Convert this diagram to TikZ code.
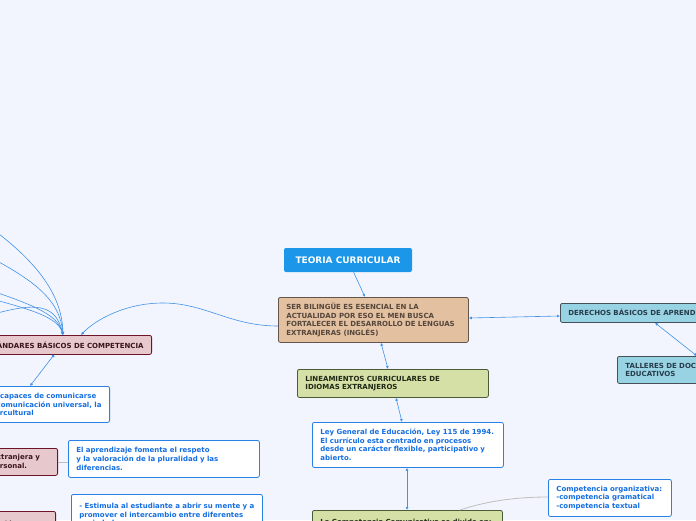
\documentclass[tikz,border=0pt]{standalone}
\usepackage{fontspec}
\setmainfont{DejaVu Sans}
\usepackage{tikz}
\usetikzlibrary{arrows.meta,positioning,calc}
\definecolor{pagebg}{RGB}{242,245,254}
\definecolor{titleblue}{RGB}{27,150,232}
\definecolor{linkblue}{RGB}{66,146,232}
\definecolor{tanfill}{RGB}{226,192,160}
\definecolor{tanline}{RGB}{100,85,75}
\definecolor{tantext}{RGB}{85,70,60}
\definecolor{cyanfill}{RGB}{151,211,226}
\definecolor{cyanline}{RGB}{70,80,90}
\definecolor{cyantext}{RGB}{40,60,75}
\definecolor{olivefill}{RGB}{213,224,167}
\definecolor{oliveline}{RGB}{75,90,55}
\definecolor{olivetext}{RGB}{30,40,20}
\definecolor{pinkfill}{RGB}{230,200,205}
\definecolor{pinkline}{RGB}{110,20,40}
\definecolor{pinktext}{RGB}{60,20,30}
\definecolor{noteline}{RGB}{40,130,230}
\definecolor{notetext}{RGB}{20,110,225}
\definecolor{greylink}{RGB}{190,190,190}
\tikzset{
  smalltext/.style={font=\fontsize{7}{8.6}\selectfont\bfseries},
  basebox/.style={smalltext, rounded corners=2pt, thick, align=left,
    inner xsep=8pt, inner ysep=3pt},
  titlebox/.style={fill=titleblue, text=white, rounded corners=2pt,
    minimum width=128pt, minimum height=24pt, font=\fontsize{9}{11}\selectfont\bfseries},
  tanbox/.style={basebox, draw=tanline, fill=tanfill, text=tantext},
  cyanbox/.style={basebox, draw=cyanline, fill=cyanfill, text=cyantext},
  olivebox/.style={basebox, draw=oliveline, fill=olivefill, text=olivetext},
  pinkbox/.style={basebox, draw=pinkline, fill=pinkfill, text=pinktext},
  notebox/.style={basebox, draw=noteline, fill=white, text=notetext},
  link/.style={linkblue, semithick, -{Latex[length=3pt,width=3pt]}},
  duallink/.style={linkblue, semithick, {Latex[length=3pt,width=3pt]}-{Latex[length=3pt,width=3pt]}},
  dotlink/.style={linkblue, semithick, {Circle[length=3pt]}-{Latex[length=3pt,width=3pt]}},
  greyline/.style={greylink, thick}
}

\begin{document}
\begin{tikzpicture}[x=1pt,y=-1pt]
\fill[pagebg] (0,0) rectangle (696,520);
\useasboundingbox (0,0) rectangle (696,520);

% centre of the map
\node[titlebox] (teoria) at (348,260) {TEORIA CURRICULAR};
\node[tanbox, anchor=north west, text width=174pt, minimum height=45pt] (bilingue) at (278,297)
  {SER BILINGÜE ES ESENCIAL EN LA\\ACTUALIDAD POR ESO EL MEN BUSCA\\FORTALECER EL DESARROLLO DE LENGUAS\\EXTRANJERAS (INGLÉS)};

% right branch
\node[cyanbox, anchor=north west, text width=170pt, minimum height=19pt] (derechos) at (560,303)
  {DERECHOS BÁSICOS DE APRENDIZAJE};
\node[cyanbox, anchor=north west, text width=180pt, minimum height=27pt] (talleres) at (617,356)
  {TALLERES DE DOCENTES Y AGENTES\\EDUCATIVOS};

% middle branch
\node[olivebox, anchor=north west, text width=175pt, minimum height=28pt] (lineamientos) at (297,369)
  {LINEAMIENTOS CURRICULARES DE\\IDIOMAS EXTRANJEROS};
\node[notebox, anchor=north west, text width=175pt, minimum height=45pt] (ley) at (312,422)
  {Ley General de Educación, Ley 115 de 1994.\\El currículo esta centrado en procesos\\desde un carácter flexible, participativo y\\abierto.};
\node[olivebox, anchor=north west, text width=174pt, inner ysep=9pt] (comunicativa) at (312,510)
  {La Competencia Comunicativa se divide en:\\lingüística, pragmática y sociolingüística};
\node[notebox, anchor=north west, text width=107pt, minimum height=37pt] (organizativa) at (548,479)
  {Competencia organizativa:\\-competencia gramatical\\-competencia textual};

% left branch
\node[pinkbox, anchor=north east, minimum height=19pt] (estandares) at (152,335)
  {ESTÁNDARES BÁSICOS DE COMPETENCIA};
\node[notebox, anchor=north east, minimum height=36pt] (capaces) at (110,386)
  {Ser capaces de comunicarse\\de comunicación universal, la\\intercultural};
\node[pinkbox, anchor=north east, text width=143pt, minimum height=27pt] (extranjera) at (58,448)
  {Aprender una lengua extranjera y\\mejora su desarrollo personal.};
\node[notebox, anchor=north west, text width=175pt, minimum height=37pt] (respeto) at (68,440)
  {El aprendizaje fomenta el respeto\\y la valoración de la pluralidad y las\\diferencias.};
\node[notebox, anchor=north west, text width=175pt, minimum height=40pt] (estimula) at (71,494)
  {- Estimula al estudiante a abrir su mente y a\\promover el intercambio entre diferentes\\sociedades.};
\node[pinkbox, anchor=north east, text width=150pt, inner ysep=9pt] (comunicacion) at (56,511)
  {Competencia en comunicación\\intercultural};

% free ends of the links that come in from the left
\coordinate (in1) at (-20,220);
\coordinate (in2) at (-20,252);
\coordinate (in3) at (-20,287);
\coordinate (in4) at (-20,296);
\coordinate (in5) at (-20,318);
\coordinate (hub) at ($(estandares.north east)+(-89,0)$);

\draw[link] (teoria) -- (bilingue.north -| 365,0);
\draw[duallink] (bilingue.east |- 0,318) -- (derechos.west |- 0,316);
\draw[duallink] (bilingue.south -| 381,0) -- (lineamientos.north -| 388,0);
\draw[duallink] (lineamientos.south -| 396,0) -- (ley.north -| 402,0);
\draw[duallink] (ley.south -| 407,0) -- (comunicativa.north -| 407,0);
\draw[duallink] (derechos.south -| 655,0) -- (talleres.north -| 697,0);
\draw[link] (bilingue.west |- 0,326) .. controls (230,326) and (205,303) .. (163,303)
  .. controls (125,303) and (95,320) .. ($(estandares.north east)+(-71,0)$);
\draw[link] (in1) .. controls (30,255) and (62,290) .. (hub);
\draw[link] (in2) .. controls (35,280) and (60,300) .. (hub);
\draw[link] (in3) .. controls (35,305) and (58,315) .. (hub);
\draw[link] (in4) .. controls (35,310) and (58,318) .. (hub);
\draw[link] (in5) .. controls (30,303) and (55,300) .. (hub);
\draw[dotlink] ($(estandares.south east)+(-98,0)$) -- (capaces.north -| 30,0);
\draw[greyline] (extranjera.east |- 0,462) -- (respeto.west |- 0,462);
\draw[greyline] (comunicativa.north -| 460,0) .. controls (490,500) and (520,497) .. (organizativa.west |- 0,497);
\end{tikzpicture}
\end{document}
